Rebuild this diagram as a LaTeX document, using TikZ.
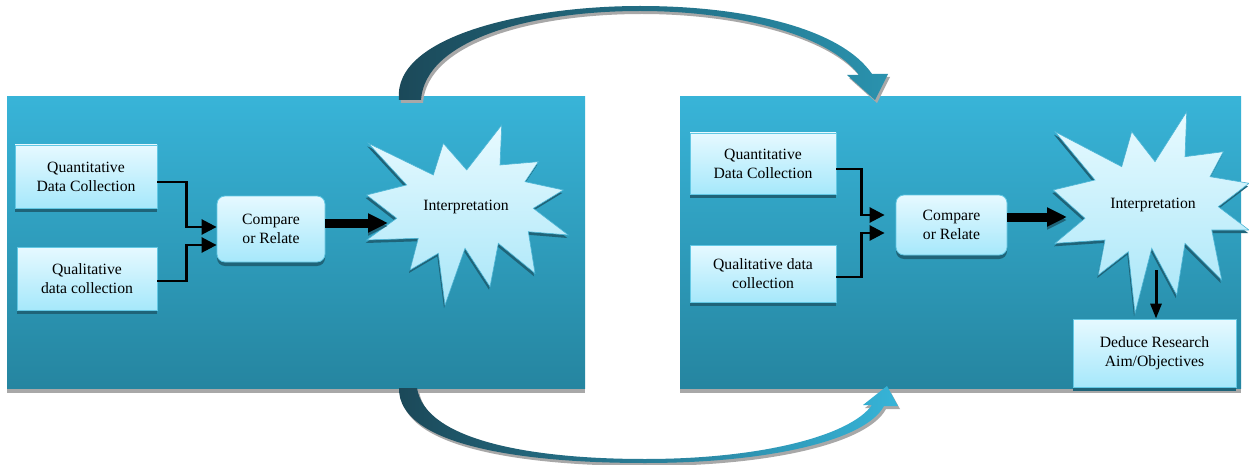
\documentclass[tikz,border=0pt]{standalone}
\usepackage{fontspec}
\setmainfont{Liberation Serif}
\usetikzlibrary{arrows.meta,shadows,calc}
\definecolor{paneltop}{HTML}{38B4D8}
\definecolor{panelbot}{HTML}{2585A0}
\definecolor{boxtop}{HTML}{E6F9FF}
\definecolor{boxbot}{HTML}{A6E8FB}
\definecolor{boxline}{HTML}{62C8E4}
\definecolor{boxshadow}{HTML}{1F6479}
\definecolor{startop}{HTML}{E8FAFF}
\definecolor{starbot}{HTML}{A8E6F8}
\definecolor{starline}{HTML}{4DB6D6}
\definecolor{arrdark}{HTML}{1B4858}
\definecolor{arrlight}{HTML}{36B4D8}
\definecolor{arrmid}{HTML}{2A92AE}
\definecolor{greysh}{HTML}{A8A8A8}
\begin{document}
\begin{tikzpicture}[x=1pt,y=-1pt,
  every node/.style={font=\fontsize{15.7}{19}\selectfont, align=center, text=black},
  infobox/.style={draw=boxline, line width=0.8pt, top color=boxtop, bottom color=boxbot,
     inner sep=0pt, general shadow={fill=boxshadow, shadow yshift=-4pt}},
  cmpbox/.style={infobox, rounded corners=8pt},
  starshape/.style={draw=starline, line width=0.6pt, top color=startop, bottom color=starbot,
     general shadow={fill=boxshadow, shadow yshift=-3pt, shadow xshift=-1pt}},
  conn/.style={line width=2.6pt, draw=black, -{Triangle[length=15pt,width=15pt]}},
  thickarr/.style={line width=9pt, draw=black, -{Triangle[length=20pt,width=18pt]},
     preaction={draw=boxshadow, transform canvas={yshift=-3pt}}},
  downarr/.style={line width=3pt, draw=black, -{Triangle[length=15pt,width=11pt]}},
  panel/.style={top color=paneltop, bottom color=panelbot, draw=none},
  curvearr/.style={draw=none, general shadow={fill=greysh, shadow xshift=2pt, shadow yshift=-3pt}}
]
\useasboundingbox (0,0) rectangle (1249,465);
\fill[white] (0,0) rectangle (1249,465);

% panels
\fill[greysh] (7,386) rectangle (585,393);
\fill[greysh] (680,386) rectangle (1241,393);
\shade[panel] (7,97) rectangle (585,388);
\shade[panel] (680,97) rectangle (1241,388);

% top curved arrow
\shade[curvearr, left color=arrdark, middle color=arrlight!90!white, right color=arrmid]
  (399,100) .. controls (392,35) and (530,6) .. (640,6)
  .. controls (750,6) and (842,30) .. (872,74)
  -- (888,74) -- (875,100) -- (847,75) -- (859,75)
  .. controls (830,36) and (740,11) .. (640,11)
  .. controls (530,11) and (425,40) .. (421,100) -- cycle;

% bottom curved arrow
\shade[curvearr, left color=arrdark, middle color=arrdark!50!arrlight, right color=arrlight]
  (399,388) .. controls (398,445) and (520,463) .. (645,463)
  .. controls (770,463) and (866,440) .. (884,406)
  -- (898,406) -- (887,386) -- (863,405) -- (872,405)
  .. controls (850,436) and (760,459) .. (645,459)
  .. controls (530,459) and (425,440) .. (417,388) -- cycle;

% stars
\shade[starshape] (368.3,143.3) -- (433.3,175) -- (443.3,143.3) -- (466.7,170) -- (501.7,125)
  -- (500,165) -- (538.3,161.7) -- (525,181.7) -- (563.3,190) -- (533.3,208.3) -- (568.3,235)
  -- (528.3,231.7) -- (535,273.3) -- (498.3,243.3) -- (490,286.7) -- (465,248.3) -- (445,305)
  -- (438.3,253.3) -- (410,270) -- (418.3,238.3) -- (366.7,240) -- (396.7,218.3) -- (366.7,195)
  -- (406.7,185) -- cycle;
\shade[starshape] (1055,131.7) -- (1121.7,166.7) -- (1131.7,131.7) -- (1155,161.7) -- (1186.7,111.7)
  -- (1185,156.7) -- (1223.3,151.7) -- (1210,176.7) -- (1249,183.3) -- (1218.3,206.7) -- (1249,230)
  -- (1211.7,230) -- (1221.7,280) -- (1185,243.3) -- (1176.7,295) -- (1151.7,248.3) -- (1135,313.3)
  -- (1128.3,251.7) -- (1098.3,275) -- (1105,240) -- (1055,243.3) -- (1085,218.3) -- (1053.3,190)
  -- (1095,180) -- cycle;

% left panel nodes
\node[infobox, minimum width=142pt, minimum height=63pt] (lqn) at (86,176.5) {Quantitative\\Data Collection};
\node[infobox, minimum width=140pt, minimum height=63pt] (lql) at (87,278.5) {Qualitative\\data collection};
\node[cmpbox, minimum width=108pt, minimum height=66pt] (lcmp) at (271,229) {Compare\\or Relate};
\node (lint) at (466,207) {Interpretation};
\coordinate (lstar) at (388,223);

% right panel nodes
\node[infobox, minimum width=146pt, minimum height=61pt] (rqn) at (763,163.5) {Quantitative\\Data Collection};
\node[infobox, minimum width=146pt, minimum height=57pt] (rql) at (763,273.5) {Qualitative data\\collection};
\node[cmpbox, minimum width=111pt, minimum height=60pt] (rcmp) at (951.5,225) {Compare\\or Relate};
\node (rint) at (1153,205) {Interpretation};
\coordinate (rstar) at (1067,217);
\coordinate (rsb) at (1156,270);
\node[infobox, minimum width=163pt, minimum height=68pt] (rded) at (1154.5,353) {Deduce Research\\Aim/Objectives};

% connectors left
\draw[conn] ([yshift=-5.5pt]lqn.east) -- ++(29,0) |- ([yshift=2pt]lcmp.west);
\draw[conn] ([yshift=-2.5pt]lql.east) -- ++(29,0) |- ([yshift=-16pt]lcmp.west);
\draw[thickarr] ([yshift=6pt]lcmp.east) -- (lstar);

% connectors right
\draw[conn] ([yshift=-5.5pt]rqn.east) -- ++(25,0) |- ([xshift=-11pt,yshift=10pt]rcmp.west);
\draw[conn] ([yshift=-3.5pt]rql.east) -- ++(25,0) |- ([xshift=-11pt,yshift=-8pt]rcmp.west);
\draw[thickarr] ([yshift=8pt]rcmp.east) -- (rstar);
\draw[downarr] (rsb) -- (rsb |- rded.north);
\end{tikzpicture}
\end{document}
